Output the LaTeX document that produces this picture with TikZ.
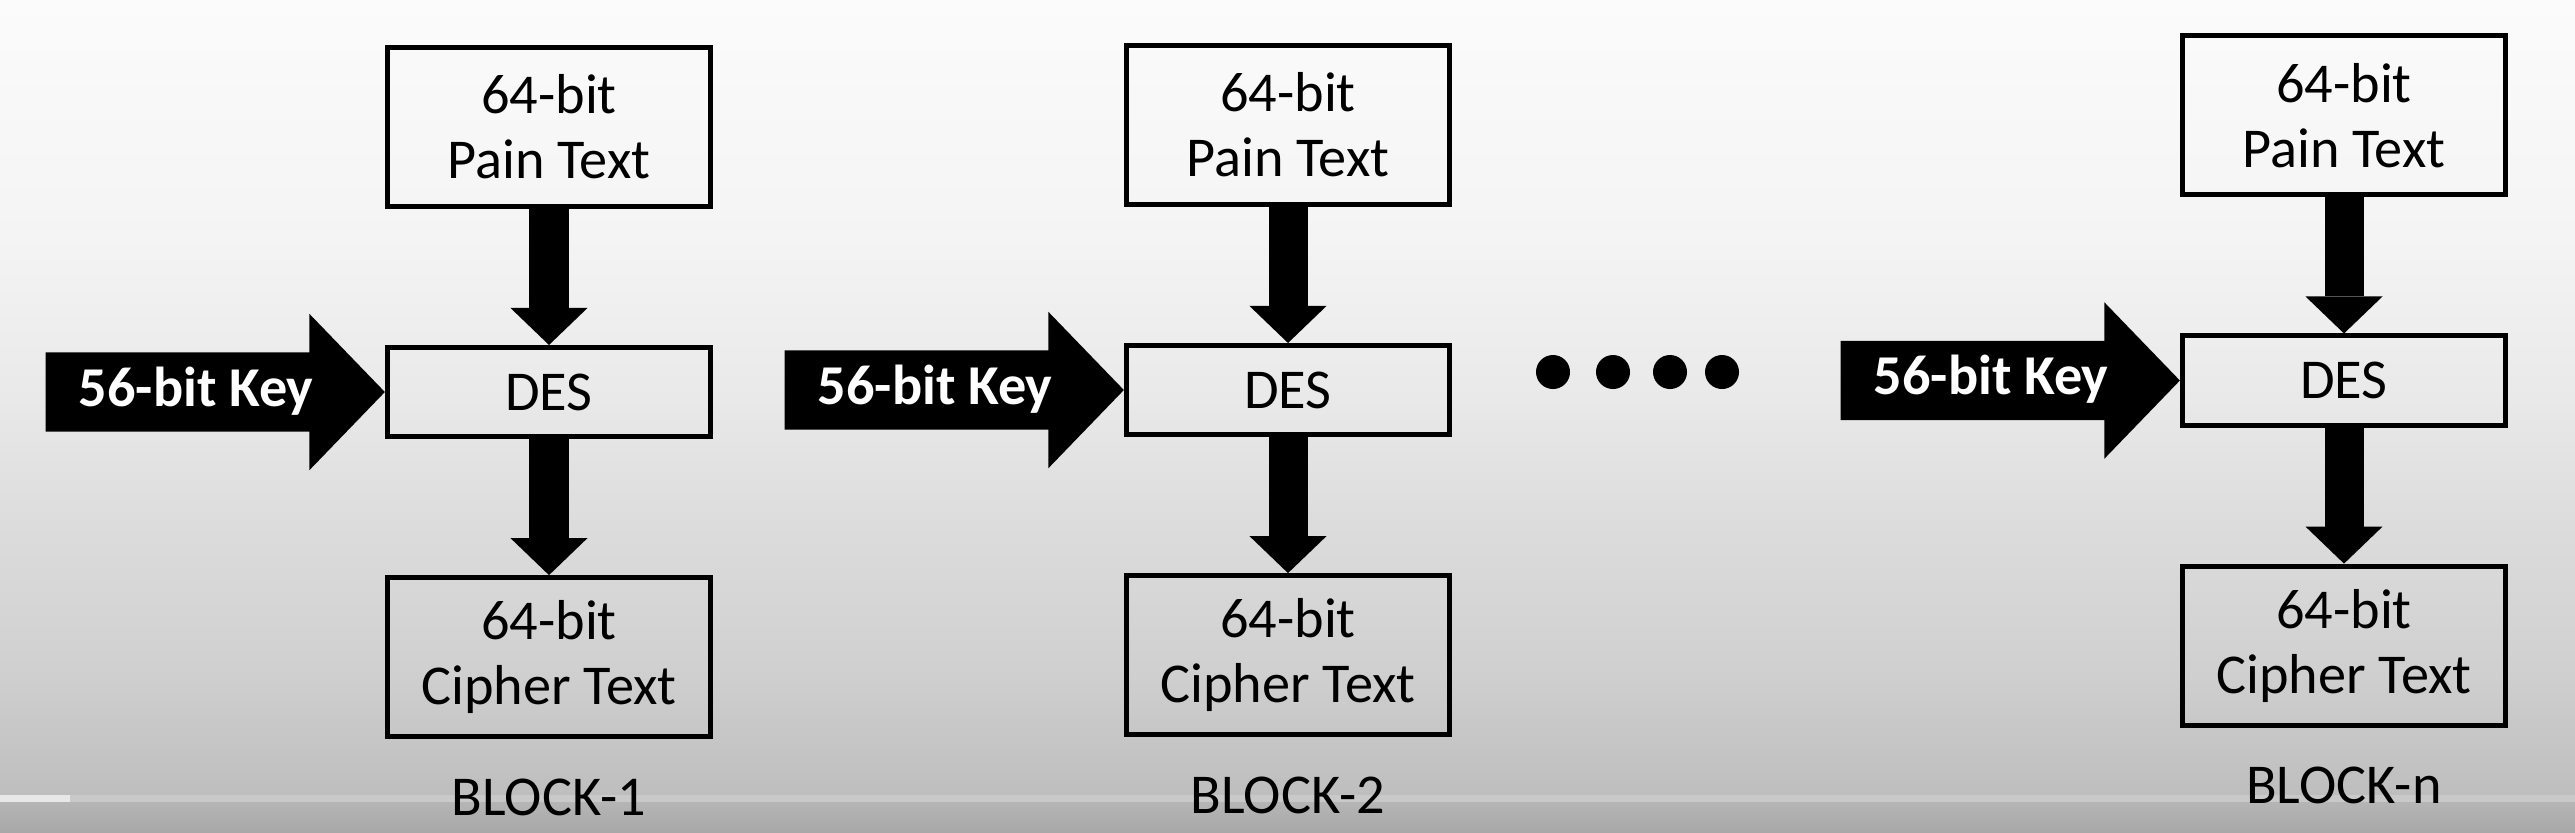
\documentclass[tikz,border=0pt]{standalone}
\usepackage{fontspec}
\setmainfont{Carlito}
\usetikzlibrary{arrows.meta, positioning, shapes.arrows}
\definecolor{bgtop}{HTML}{FBFBFB}
\definecolor{bghigh}{HTML}{F4F4F4}
\definecolor{bgmid}{HTML}{E9E9E9}
\definecolor{bgmidlow}{HTML}{DCDCDC}
\definecolor{bglow}{HTML}{D0D0D0}
\definecolor{bgbot}{HTML}{BEBEBE}
\definecolor{barline}{HTML}{C9C9C9}
\definecolor{played}{HTML}{E8E8E8}
\definecolor{barup}{HTML}{B5B5B5}
\definecolor{bardown}{HTML}{A8A8A8}
\pgfdeclareverticalshading{bgshade}{100bp}{color(0bp)=(bgbot); color(25bp)=(bgbot); color(33bp)=(bglow); color(42bp)=(bgmidlow); color(50bp)=(bgmid); color(60bp)=(bghigh); color(75bp)=(bgtop); color(100bp)=(bgtop)}

\begin{document}
\begin{tikzpicture}[x=0.01cm, y=-0.01cm, node distance=2.65cm,
	txtbox/.style={draw, line width=0.05cm, minimum width=3.23cm, minimum height=1.59cm, align=center, font=\fontsize{16}{18.5}\selectfont},
	desbox/.style={txtbox, minimum height=0.89cm},
	keyarrow/.style={single arrow, fill=black, text=white, outer sep=0pt, minimum height=3.39cm, single arrow head extend=0.385cm, single arrow tip angle=92, inner ysep=0.13cm, text height=0.4cm, text depth=0.12cm, font=\fontsize{16}{19}\selectfont\bfseries},
	fatarrow/.style={line width=0.39cm, -{Triangle[width=0.77cm, length=0.37cm, line width=0pt]}},
	blklabel/.style={font=\fontsize{16}{19}\selectfont, inner sep=0pt}]
			\useasboundingbox (0,0) rectangle (2575,832);
			\shade[shading=bgshade] (0,0) rectangle (2575,795);
			\fill[barline] (0,795) rectangle (2575,802);
			\fill[played] (0,795) rectangle (70,802);
			\shade[top color=barup, bottom color=bardown] (0,802) rectangle (2575,832);

			\node[desbox] (des1) at (549,392) {DES};
			\node[txtbox] (pt1) [above of=des1] {64-bit\\Pain Text};
			\node[txtbox] (ct1) [below of=des1] {64-bit\\Cipher Text};
			\node[keyarrow] (key1) [left=0pt of des1] {56-bit Key};
			\node[blklabel] (blk1) [node distance=1.4cm, below of=ct1] {BLOCK-1};

			\node[desbox] (des2) at (1288,390) {DES};
			\node[txtbox] (pt2) [above of=des2] {64-bit\\Pain Text};
			\node[txtbox] (ct2) [below of=des2] {64-bit\\Cipher Text};
			\node[keyarrow] (key2) [left=0pt of des2] {56-bit Key};
			\node[blklabel] (blk2) [node distance=1.4cm, below of=ct2] {BLOCK-2};

			\node[desbox] (desn) at (2344,380.5) {DES};
			\node[txtbox] (ptn) [above of=desn] {64-bit\\Pain Text};
			\node[txtbox] (ctn) [below of=desn] {64-bit\\Cipher Text};
			\node[keyarrow] (keyn) [left=0pt of desn] {56-bit Key};
			\node[blklabel] (blkn) [node distance=1.4cm, below of=ctn] {BLOCK-n};

			\fill (1553,372) circle[radius=0.17cm] (1613,372) circle[radius=0.17cm]
				(1670,372) circle[radius=0.17cm] (1722,372) circle[radius=0.17cm];

			\path[fatarrow]
				(pt1) edge (des1)
				(des1) edge (ct1)
				(pt2) edge (des2)
				(des2) edge (ct2)
				(ptn) edge (desn)
				(desn) edge (ctn);
		\end{tikzpicture}
\end{document}
